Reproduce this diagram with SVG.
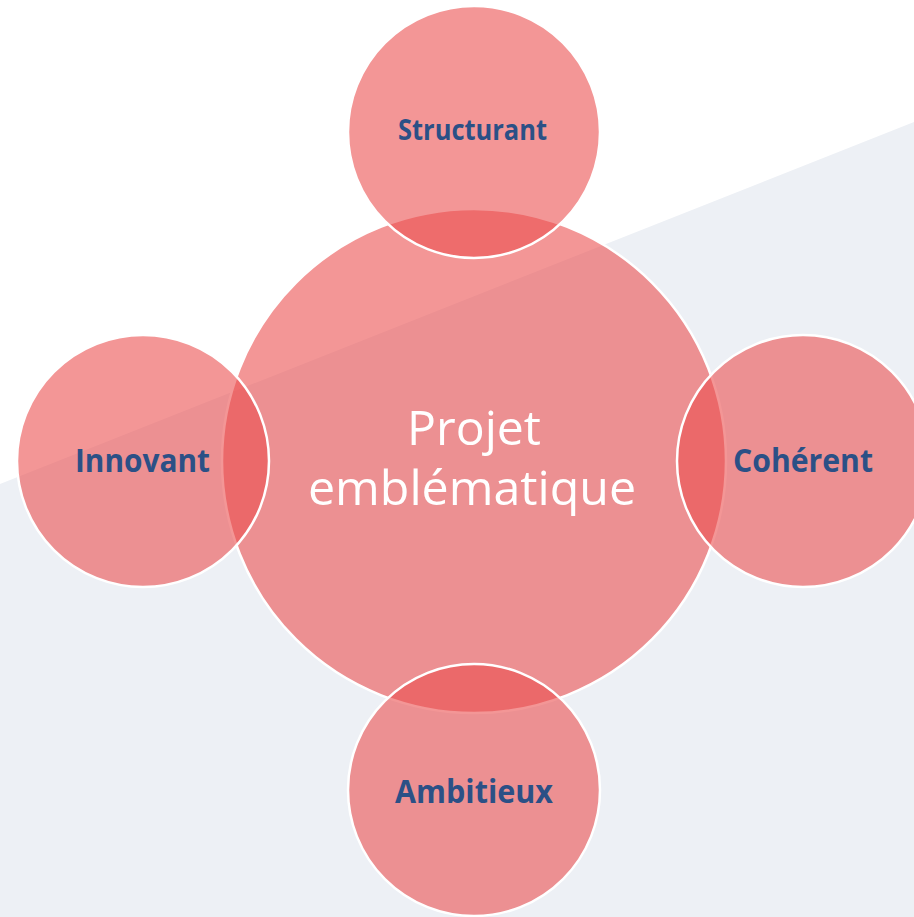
<svg xmlns="http://www.w3.org/2000/svg" width="914" height="917" viewBox="0 0 914 917">
<style>
.disc{fill:#EB5050;fill-opacity:0.6;stroke:#FFFFFF;stroke-width:2.5}
.lbl{font-family:"Open Sans","Liberation Sans",sans-serif;font-weight:700;fill:#2B5086;text-anchor:middle}
.ctr{font-family:"Open Sans","Liberation Sans",sans-serif;font-weight:400;fill:#FFFFFF;text-anchor:middle;font-size:48px}
</style>
<rect x="0" y="0" width="914" height="917" fill="#FFFFFF"/>
<polygon points="0,484 914,122 914,917 0,917" fill="#EDF0F5"/>
<g id="node-center">
<circle class="disc" cx="474" cy="461" r="252"/>
</g>
<g id="node-structurant">
<circle class="disc" cx="474" cy="132" r="126"/>
</g>
<g id="node-innovant">
<circle class="disc" cx="143" cy="461" r="126"/>
</g>
<g id="node-coherent">
<circle class="disc" cx="803" cy="461" r="126"/>
</g>
<g id="node-ambitieux">
<circle class="disc" cx="474" cy="790" r="126"/>
</g>
<g id="labels">
<text class="ctr" x="474" y="445" textLength="134" lengthAdjust="spacingAndGlyphs">Projet</text>
<text class="ctr" x="472" y="505" textLength="328" lengthAdjust="spacingAndGlyphs">emblématique</text>
<text class="lbl" x="472.5" y="140" font-size="28" textLength="149" lengthAdjust="spacingAndGlyphs">Structurant</text>
<text class="lbl" x="142.5" y="472" font-size="33" textLength="135" lengthAdjust="spacingAndGlyphs">Innovant</text>
<text class="lbl" x="803" y="472" font-size="33" textLength="140" lengthAdjust="spacingAndGlyphs">Cohérent</text>
<text class="lbl" x="474" y="803" font-size="33" textLength="158" lengthAdjust="spacingAndGlyphs">Ambitieux</text>
</g>
</svg>
